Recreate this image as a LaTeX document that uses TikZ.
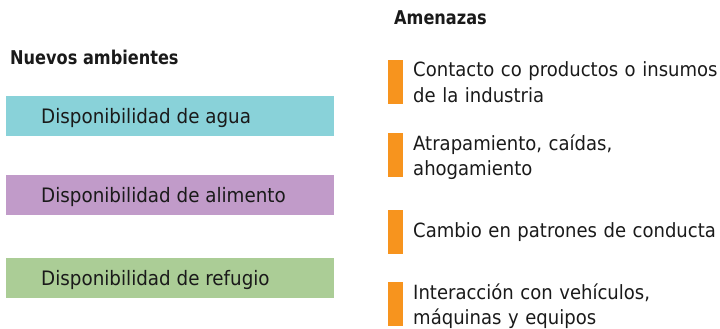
\documentclass[tikz,border=0pt]{standalone}
\usepackage{fontspec}
\setmainfont{DejaVu Sans}[FakeStretch=0.92]
\newfontfamily\headfont{DejaVu Sans Bold}[FakeStretch=0.85]
\definecolor{aguacol}{HTML}{89D2D9}
\definecolor{alimcol}{HTML}{C19BC9}
\definecolor{refcol}{HTML}{ABCD96}
\definecolor{barcol}{HTML}{F7941E}
\definecolor{txtcol}{HTML}{1A1A1A}
\hyphenpenalty=10000
\begin{document}
\begin{tikzpicture}[x=1pt,y=-1pt,
  every node/.style={text=txtcol},
  headtxt/.style={anchor=base west,inner sep=0pt,font=\headfont\fontsize{19pt}{22pt}\selectfont},
  envbox/.style={anchor=north west,inner sep=0pt,minimum width=328pt,minimum height=40pt},
  envtxt/.style={anchor=base west,inner sep=0pt,font=\fontsize{19.9pt}{25pt}\selectfont},
  threatbar/.style={anchor=north west,inner sep=0pt,minimum width=15pt,minimum height=44pt,fill=barcol},
  threattxt/.style={anchor=base west,inner sep=0pt,text width=340pt,align=left,font=\fontsize{19.6pt}{25pt}\selectfont}]
\useasboundingbox (0,0) rectangle (720,329);
% headings
\node[headtxt] (hl) at (10,65) {Nuevos ambientes};
\node[headtxt] (hr) at (394,25) {Amenazas};
% left boxes
\node[envbox,fill=aguacol] (b1) at (6,96) {};
\node[envbox,fill=alimcol] (b2) at (6,175) {};
\node[envbox,fill=refcol] (b3) at (6,258) {};
\node[envtxt] (t1) at (41,123.5) {Disponibilidad de agua};
\node[envtxt] (t2) at (41,202.5) {Disponibilidad de alimento};
\node[envtxt] (t3) at (41,285.5) {Disponibilidad de refugio};
% right bars and texts
\node[threatbar] (r1) at (388,60) {};
\node[threatbar] (r2) at (388,133) {};
\node[threatbar] (r3) at (388,210) {};
\node[threatbar] (r4) at (388,282) {};
\node[threattxt] (a1) at (413,77) {Contacto co productos o insumos\\de la industria};
\node[threattxt] (a2) at (413,150) {Atrapamiento, caídas,\\ahogamiento};
\node[threattxt] (a3) at (413,237) {Cambio en patrones de conducta};
\node[threattxt] (a4) at (413,299) {Interacción con vehículos,\\máquinas y equipos};
\end{tikzpicture}
\end{document}
